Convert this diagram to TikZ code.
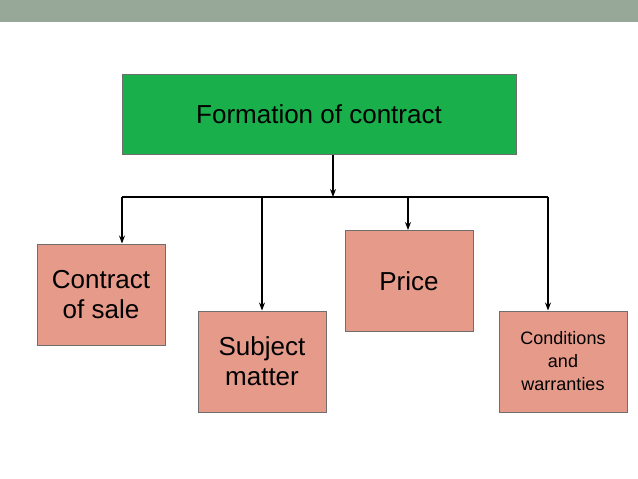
\documentclass[tikz,border=0pt]{standalone}
\usepackage{fontspec}
\setmainfont{Liberation Sans}
\usetikzlibrary{arrows.meta}
\definecolor{band}{HTML}{97A898}
\definecolor{gbox}{HTML}{19B04B}
\definecolor{sbox}{HTML}{E59A8A}
\definecolor{edge}{HTML}{6E6E6E}
\begin{document}
\begin{tikzpicture}[x=1pt,y=-1pt,
  sub/.style={draw=edge,fill=sbox,line width=1pt,minimum width=128pt,minimum height=101pt,inner sep=0pt,align=center,font=\fontsize{26}{30}\selectfont},
  arr/.style={-{Stealth[length=8pt,width=6pt]},line width=1.2pt,black}]
\useasboundingbox (0,0) rectangle (638,479);
\fill[band] (0,0) rectangle (638,22);
\node[draw=edge,fill=gbox,line width=1pt,minimum width=394pt,minimum height=80pt,font=\fontsize{26}{30}\selectfont] (top) at (319,114) {Formation of contract};
\node[sub] (a) at (101,294.5) {Contract\\of sale};
\node[sub] (b) at (262,361.5) {Subject\\matter};
\node[sub] (c) at (409,281) {Price};
\node[sub,font=\fontsize{18}{23}\selectfont] (d) at (563,361.5) {Conditions\\and\\warranties};
\coordinate (j) at (333,197);
\coordinate (l) at (122,197);
\coordinate (r) at (548,197);
\coordinate (jb) at (262,197);
\coordinate (jc) at (408,197);
\draw[arr] (top.south -| j) -- (j);
\draw[line width=1.2pt] (l) -- (r);
\draw[arr] (l) -- (l |- a.north);
\draw[arr] (jb) -- (b.north);
\draw[arr] (jc) -- (jc |- c.north);
\draw[arr] (r) -- (r |- d.north);
\end{tikzpicture}
\end{document}
